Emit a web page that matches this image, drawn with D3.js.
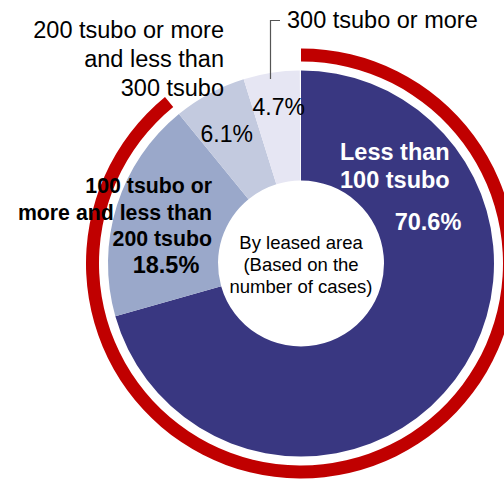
<!DOCTYPE html>
<html><head><meta charset="utf-8">
<script src="https://cdn.jsdelivr.net/npm/d3@7"></script>
<style>html,body{margin:0;padding:0;background:#fff;}svg{display:block;font-family:"Liberation Sans",Arial,sans-serif;}</style>
</head><body>
<script>
const categories = ["Less than 100 tsubo", "100 tsubo or more and less than 200 tsubo", "200 tsubo or more and less than 300 tsubo", "300 tsubo or more"];
const values = [70.6, 18.5, 6.1, 4.7];
const valueLabels = ["70.6%", "18.5%", "6.1%", "4.7%"];
const colors = ["#393781", "#9AA8CA", "#C3CADF", "#E6E6F3"];
const highlightShare = values[0] + values[1];
const centerLines = ["By leased area", "(Based on the", "number of cases)"];

const W = 504, H = 484;
const cx = 301, cy = 263.5;
const rIn = 83, rOut = 193, redIn = 202, redOut = 215;

const svg = d3.select("body").append("svg").attr("width", W).attr("height", H);
const g = svg.append("g").attr("transform", `translate(${cx},${cy})`);

const total = d3.sum(values);
const pie = d3.pie().sort(null).value(d => d).endAngle(2 * Math.PI * total / 100);
const arcs = pie(values);
const arc = d3.arc().innerRadius(rIn).outerRadius(rOut);

g.selectAll("path.slice").data(arcs).join("path")
  .attr("class", "slice").attr("d", arc).attr("fill", (d, i) => colors[i]);

// red highlight ring
const angle = d3.scaleLinear().domain([0, 100]).range([0, 2 * Math.PI]);
g.append("path")
  .attr("d", d3.arc().innerRadius(redIn).outerRadius(redOut).startAngle(0).endAngle(angle(highlightShare))())
  .attr("fill", "#C00000");

// center text
g.append("text").attr("text-anchor", "middle").attr("font-size", 18.5).attr("fill", "#000")
  .selectAll("tspan").data(centerLines).join("tspan")
  .attr("x", 0).attr("y", (d, i) => -14.5 + i * 22).text(d => d);

// small percentage labels (via label arcs)
const smallLabelCfg = [{ i: 2, r: 147.5, dx: -4.5 }, { i: 3, r: 158.7, dx: 2 }];
smallLabelCfg.forEach(c => {
  const [x, y] = d3.arc().innerRadius(c.r).outerRadius(c.r).centroid(arcs[c.i]);
  g.append("text").attr("x", x + c.dx).attr("y", y).attr("dy", "0.36em")
    .attr("text-anchor", "middle").attr("font-size", 23).attr("fill", "#000").text(valueLabels[c.i]);
});

// Less than 100 tsubo label
const t0 = g.append("text").attr("font-weight", "bold").attr("fill", "#fff").attr("font-size", 23.5);
t0.append("tspan").attr("x", 39).attr("y", -103.5).text("Less than");
t0.append("tspan").attr("x", 39).attr("y", -75.5).text("100 tsubo");
g.append("text").attr("x", 127).attr("y", -33.5).attr("text-anchor", "middle")
  .attr("font-weight", "bold").attr("fill", "#fff").attr("font-size", 23.5).text(valueLabels[0]);

// 18.5% label
const t1 = g.append("text").attr("font-weight", "bold").attr("fill", "#000").attr("font-size", 21.3).attr("text-anchor", "end");
["100 tsubo or", "more and less than", "200 tsubo"].forEach((s, k) => {
  t1.append("tspan").attr("x", -89).attr("y", -70.5 + k * 26.5).text(s);
});
g.append("text").attr("x", -135).attr("y", 9.5).attr("text-anchor", "middle")
  .attr("font-weight", "bold").attr("fill", "#000").attr("font-size", 23.5).text(valueLabels[1]);

// outside labels
const t2 = svg.append("text").attr("text-anchor", "end").attr("font-size", 23.5).attr("fill", "#000");
["200 tsubo or more", "and less than", "300 tsubo"].forEach((s, k) => {
  t2.append("tspan").attr("x", 224).attr("y", 38 + k * 29).text(s);
});
svg.append("text").attr("x", 287).attr("y", 28).attr("font-size", 23.5).attr("fill", "#000").text("300 tsubo or more");

// leader line for 300 tsubo or more
svg.append("path").attr("d", d3.line()([[270.5, 79], [270.5, 20.5], [280, 20.5]]))
  .attr("fill", "none").attr("stroke", "#555").attr("stroke-width", 1.2);
</script>
</body></html>
